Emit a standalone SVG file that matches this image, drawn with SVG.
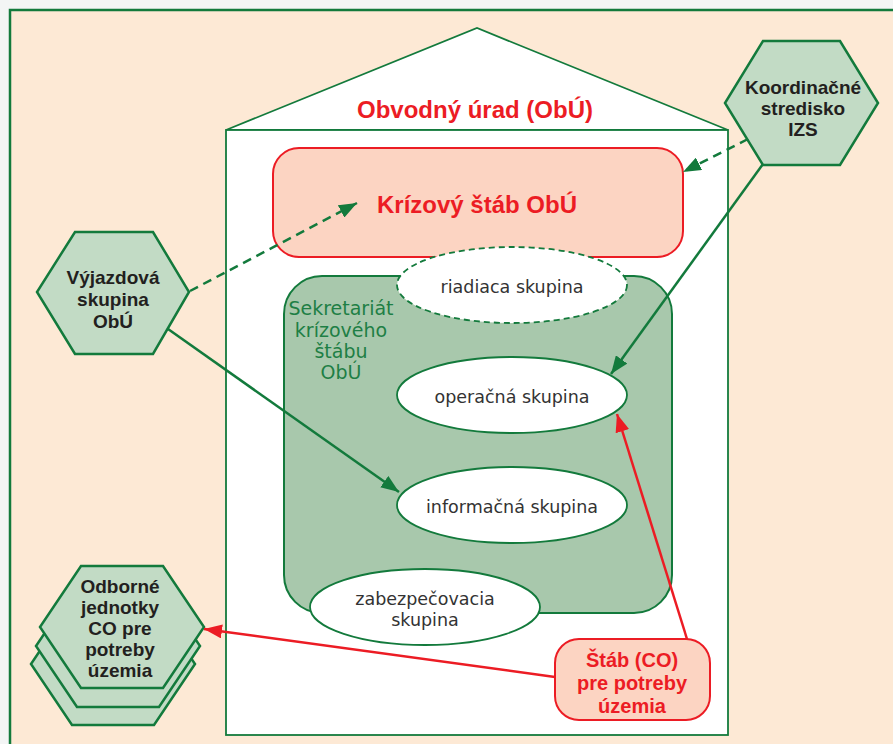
<svg xmlns="http://www.w3.org/2000/svg" width="893" height="744" viewBox="0 0 893 744">
<style>
.hex{fill:#c2dbc5;stroke:#137a3c;stroke-width:2.5}
.ht{font-family:"Liberation Sans",Arial,sans-serif;font-weight:bold;font-size:19px;fill:#231f20;text-anchor:middle}
.rt{font-family:"Liberation Sans",Arial,sans-serif;font-weight:bold;fill:#ec1c24;text-anchor:middle}
.et{font-family:"DejaVu Sans",sans-serif;font-size:17.5px;fill:#333;text-anchor:middle}
.ell{fill:#fff;stroke:#137a3c;stroke-width:1.8}
.g{stroke:#137a3c;stroke-width:2.5;fill:none}
.r{stroke:#ec1c24;stroke-width:2.5;fill:none}
.dash{stroke-dasharray:9 6}
</style>
<defs>
<marker id="ag" markerUnits="userSpaceOnUse" markerWidth="20" markerHeight="14" refX="18" refY="7" orient="auto"><path d="M0,0 L18,7 L0,14 Z" fill="#137a3c"/></marker>
<marker id="ar" markerUnits="userSpaceOnUse" markerWidth="20" markerHeight="14" refX="18" refY="7" orient="auto"><path d="M0,0 L18,7 L0,14 Z" fill="#ec1c24"/></marker>
</defs>
<rect x="0" y="0" width="893" height="744" fill="#f3f5f5"/>
<rect id="frame" x="10" y="10" width="900" height="760" fill="#fde9d5" stroke="#137a3c" stroke-width="2.5"/>
<g id="house">
<polygon points="226,130 477,28 728,130" fill="#fff" stroke="#137a3c" stroke-width="1.8"/>
<rect x="226" y="130" width="502" height="605" fill="#fff" stroke="#137a3c" stroke-width="1.8"/>
<text class="rt" x="475" y="118" font-size="24">Obvodný úrad (ObÚ)</text>
</g>
<g id="krizovy">
<rect x="273" y="148" width="410" height="109" rx="26" fill="#fcd4c2" stroke="#ec1c24" stroke-width="2"/>
<text class="rt" x="477" y="213" font-size="24">Krízový štáb ObÚ</text>
</g>
<g id="sekretariat">
<rect x="284" y="276" width="388" height="337" rx="38" fill="#a8c8ac" stroke="#137a3c" stroke-width="2"/>
<text font-family="DejaVu Sans, sans-serif" font-size="19" fill="#1e7f45" text-anchor="middle"><tspan x="341" y="315">Sekretariát</tspan><tspan x="341" y="337">krízového</tspan><tspan x="341" y="358">štábu</tspan><tspan x="341" y="379">ObÚ</tspan></text>
</g>
<g id="riadiaca">
<ellipse class="ell" cx="512" cy="285" rx="115" ry="38" stroke-dasharray="6 4" stroke-width="1.5"/>
<text class="et" x="512" y="293">riadiaca skupina</text>
</g>
<g id="operacna">
<ellipse class="ell" cx="512" cy="395" rx="115" ry="38"/>
<text class="et" x="512" y="403">operačná skupina</text>
</g>
<g id="informacna">
<ellipse class="ell" cx="512" cy="505" rx="115" ry="38"/>
<text class="et" x="512" y="513">informačná skupina</text>
</g>
<g id="zabezpecovacia">
<ellipse class="ell" cx="425" cy="607" rx="115" ry="38"/>
<text class="et"><tspan x="425" y="605">zabezpečovacia</tspan><tspan x="425" y="626">skupina</tspan></text>
</g>
<g id="stab-co">
<rect x="555" y="639" width="155" height="81" rx="24" fill="#fcd4c2" stroke="#ec1c24" stroke-width="2"/>
<text class="rt" font-size="20"><tspan x="632" y="667">Štáb (CO)</tspan><tspan x="632" y="690">pre potreby</tspan><tspan x="632" y="713">územia</tspan></text>
</g>
<g id="koordinacne">
<polygon class="hex" points="763,41 840,41 878,103 840,165 763,165 725,103"/>
<text class="ht" font-size="20"><tspan x="803" y="94">Koordinačné</tspan><tspan x="803" y="115">stredisko</tspan><tspan x="803" y="136">IZS</tspan></text>
</g>
<g id="vyjazdova">
<polygon class="hex" points="75,232 153,232 189,292 153,354 75,354 37,292"/>
<text class="ht"><tspan x="113" y="284">Výjazdová</tspan><tspan x="113" y="306">skupina</tspan><tspan x="113" y="328">ObÚ</tspan></text>
</g>
<g id="odborne">
<polygon class="hex" points="72,603 154,603 195,664 154,725 72,725 31,664"/>
<polygon class="hex" points="77,585 159,585 200,646 159,707 77,707 36,646"/>
<polygon class="hex" points="81,566 163,566 204,627 163,688 81,688 40,627"/>
<text class="ht"><tspan x="120" y="593">Odborné</tspan><tspan x="120" y="614">jednotky</tspan><tspan x="120" y="635">CO pre</tspan><tspan x="120" y="656">potreby</tspan><tspan x="120" y="677">územia</tspan></text>
</g>
<g id="connectors">
<line class="g dash" x1="190" y1="291" x2="357" y2="203" marker-end="url(#ag)"/>
<line class="g dash" x1="748" y1="139" x2="683" y2="172" marker-end="url(#ag)"/>
<line class="g" x1="763" y1="164" x2="611" y2="374" marker-end="url(#ag)"/>
<line class="g" x1="168" y1="329" x2="399" y2="492" marker-end="url(#ag)"/>
<line class="r" x1="687" y1="639" x2="617" y2="414" marker-end="url(#ar)"/>
<line class="r" x1="555" y1="677" x2="204" y2="629" marker-end="url(#ar)"/>
</g>
</svg>
